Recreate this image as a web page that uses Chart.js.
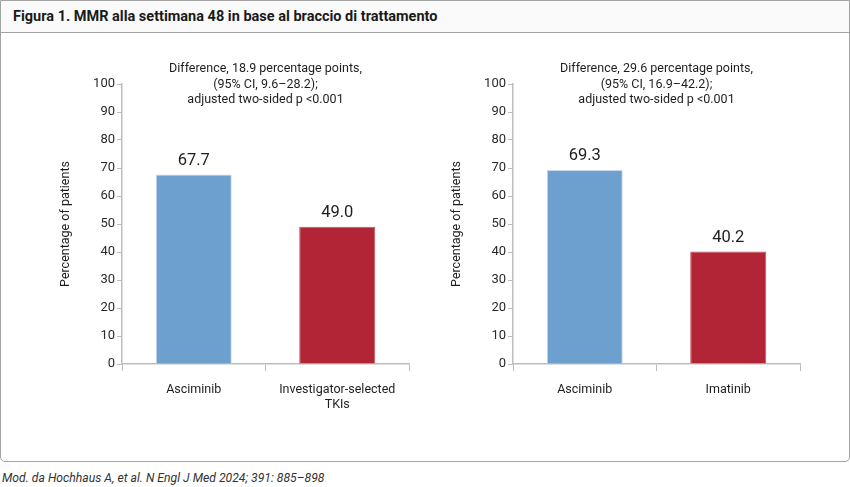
<!DOCTYPE html>
<html>
<head>
<meta charset="utf-8">
<script src="https://cdn.jsdelivr.net/npm/chart.js@4"></script>
<style>
  html, body { margin: 0; padding: 0; background: #fff; }
  body { width: 850px; height: 487px; position: relative; font-family: Roboto, "Noto Sans", sans-serif; color: #222; }
  .box { position: absolute; left: 0; top: 0; width: 848px; height: 460px; border: 1px solid #a3a3a3; border-radius: 0 0 5px 5px; }
  .head { position: absolute; left: 0; top: 0; width: 848px; height: 31px; border-bottom: 1px solid #a3a3a3; background: #fafafa; }
  .head span { position: absolute; left: 12px; top: 7px; font-weight: 700; font-size: 14.5px; color: #1a1a1a; }
  .foot { position: absolute; left: 2px; top: 471px; font-style: italic; font-size: 12.2px; color: #333; }
  canvas { position: absolute; top: 40px; }
  #chartA { left: 0; }
  #chartB { left: 391px; }
</style>
</head>
<body>
<div class="box"><div class="head"><span>Figura 1. MMR alla settimana 48 in base al braccio di trattamento</span></div></div>
<canvas id="chartA" width="430" height="380"></canvas>
<canvas id="chartB" width="430" height="380"></canvas>
<div class="foot">Mod. da Hochhaus A, et al. N Engl J Med 2024; 391: 885–898</div>
<script>
(function () {
    'use strict';

    var categoriesA = ['Asciminib', ['Investigator-selected', 'TKIs']];
    var valuesA = [67.7, 49.0];
    var notesA = ['Difference, 18.9 percentage points,', '(95% CI, 9.6–28.2);', 'adjusted two-sided p <0.001'];

    var categoriesB = ['Asciminib', 'Imatinib'];
    var valuesB = [69.3, 40.2];
    var notesB = ['Difference, 29.6 percentage points,', '(95% CI, 16.9–42.2);', 'adjusted two-sided p <0.001'];

    var yMin = 0, yMax = 100, yStep = 10;
    var yTitle = 'Percentage of patients';
    var barColors = ['#6d9fcf', '#b22536'];

    var FONT = 'Roboto, "Noto Sans", sans-serif';

    /* note au-dessus + valeurs des barres */
    var annotate = {
        id: 'annotate',
        afterDraw: function (chart, args, opts) {
            var ctx = chart.ctx, a = chart.chartArea;
            ctx.save();
            ctx.fillStyle = '#1e1e1e';
            ctx.textAlign = 'center';
            ctx.textBaseline = 'middle';
            ctx.font = '12.5px ' + FONT;
            opts.lines.forEach(function (t, i) {
                ctx.fillText(t, (a.left + a.right) / 2, a.top - 15 + i * 15.5);
            });
            ctx.font = '16.5px ' + FONT;
            var ds = chart.data.datasets[0];
            chart.getDatasetMeta(0).data.forEach(function (bar, i) {
                ctx.fillText(ds.data[i].toFixed(1), bar.x, bar.y - 14);
            });
            ctx.restore();
        }
    };

    function build(id, labels, values, notes) {
        new Chart(document.getElementById(id).getContext('2d'), {
            type: 'bar',
            data: {
                labels: labels,
                datasets: [{
                    data: values,
                    backgroundColor: barColors,
                    borderColor: ['#c9dcef', '#c2505c'],
                    borderWidth: 1,
                    categoryPercentage: 1,
                    barPercentage: 0.53
                }]
            },
            options: {
                responsive: false,
                animation: false,
                layout: { padding: { top: 44, left: 54, right: 21, bottom: 10 } },
                plugins: {
                    legend: { display: false },
                    tooltip: { enabled: false },
                    annotate: { lines: notes }
                },
                scales: {
                    x: {
                        grid: { drawOnChartArea: false, drawTicks: true, tickLength: 7, color: '#bdbdbd' },
                        border: { color: '#bdbdbd', width: 1.5 },
                        ticks: { color: '#1e1e1e', font: { family: FONT, size: 12.5 }, padding: 11, maxRotation: 0 },
                        afterFit: function (s) { s.height = 46; }
                    },
                    y: {
                        min: yMin,
                        max: yMax,
                        grid: { drawOnChartArea: false, drawTicks: true, tickLength: 5, color: '#bdbdbd' },
                        border: { color: '#bdbdbd', width: 1.5 },
                        ticks: { stepSize: yStep, color: '#2a2a2a', font: { family: FONT, size: 13 }, padding: 2 },
                        title: { display: true, text: yTitle, color: '#1e1e1e', font: { family: FONT, size: 12.5 }, padding: { top: 4, bottom: 4 } },
                        afterFit: function (s) { s.width = 68; }
                    }
                }
            },
            plugins: [annotate]
        });
    }

    build('chartA', categoriesA, valuesA, notesA);
    build('chartB', categoriesB, valuesB, notesB);
}());
</script>
</body>
</html>
